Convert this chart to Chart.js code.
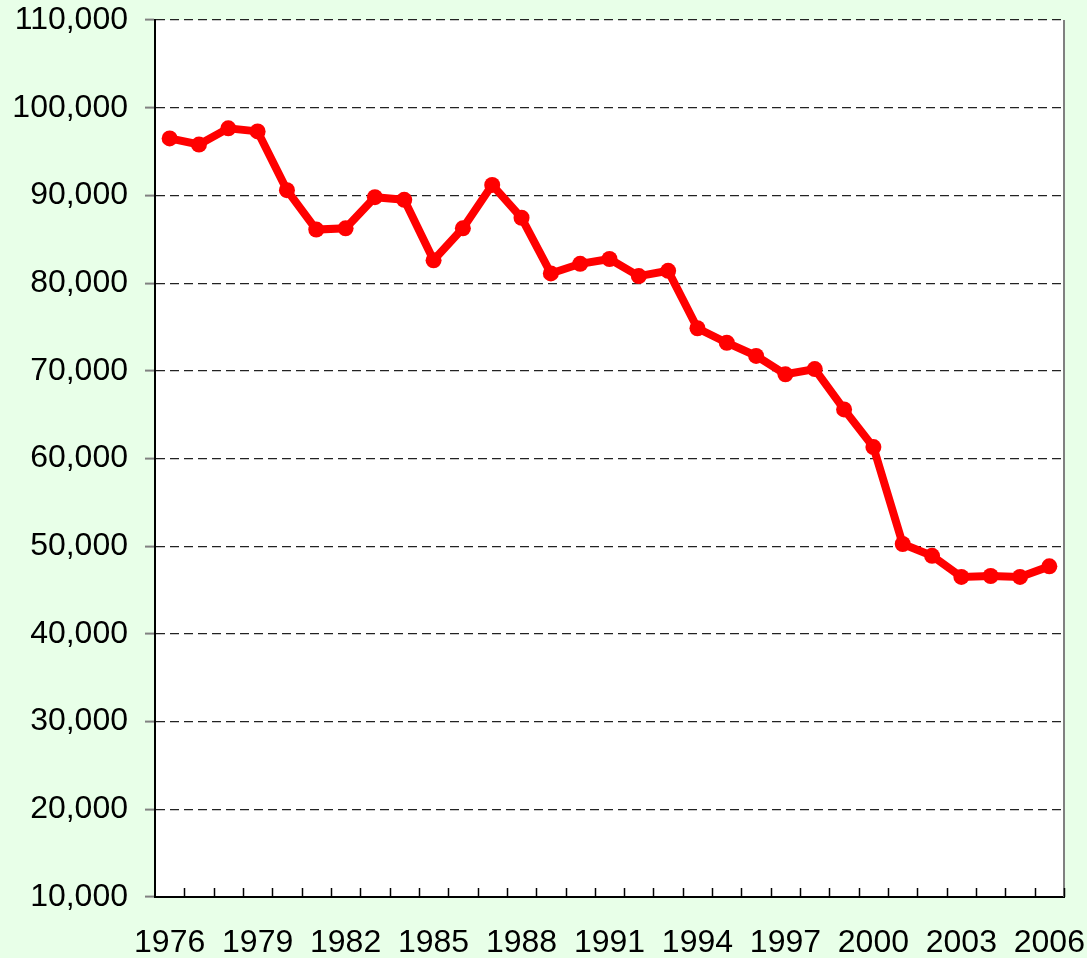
<!DOCTYPE html>
<html>
<head>
<meta charset="utf-8">
<script src="https://cdn.jsdelivr.net/npm/chart.js@4/dist/chart.umd.min.js"></script>
<style>
  html, body { margin: 0; padding: 0; background: #e8ffe8; }
  #wrap { width: 1087px; height: 958px; position: relative; }
</style>
</head>
<body>
<div id="wrap"><canvas id="chart"></canvas></div>
<script>
// datos
const years = [1976, 1977, 1978, 1979, 1980, 1981, 1982, 1983, 1984, 1985,
  1986, 1987, 1988, 1989, 1990, 1991, 1992, 1993, 1994, 1995,
  1996, 1997, 1998, 1999, 2000, 2001, 2002, 2003, 2004, 2005, 2006];
const values = [96500, 95800, 97650, 97300, 90600, 86100, 86250, 89800, 89500, 82600,
  86250, 91200, 87450, 81100, 82200, 82750, 80800, 81400, 74850, 73200,
  71700, 69600, 70200, 65600, 61300, 50250, 48900, 46500, 46600, 46500, 47700];
const shownYears = [1976, 1979, 1982, 1985, 1988, 1991, 1994, 1997, 2000, 2003, 2006];
const yMin = 10000;
const yMax = 110000;
const yStep = 10000;

const FONT = { family: "'Liberation Sans', Arial, sans-serif", size: 32 };

// fondo blanco del area de trazado, borde derecho y marcas internas del eje x
const plotDecor = {
  id: "plotDecor",
  beforeDraw(chart) {
    const { ctx, chartArea: a } = chart;
    ctx.save();
    ctx.fillStyle = "#ffffff";
    ctx.fillRect(a.left, a.top, a.right - a.left, a.bottom - a.top);
    ctx.restore();
  },
  afterDraw(chart) {
    const { ctx, chartArea: a } = chart;
    const xs = chart.scales.x;
    const n = years.length;
    ctx.save();
    ctx.strokeStyle = "#808080";
    ctx.lineWidth = 2;
    ctx.beginPath();
    ctx.moveTo(a.right, a.top);
    ctx.lineTo(a.right, a.bottom);
    ctx.stroke();
    ctx.strokeStyle = "#000000";
    ctx.lineWidth = 1.5;
    for (let i = 1; i <= n; i++) {
      const x = Math.round(xs.left + (i * (xs.right - xs.left)) / n) + 0.5;
      ctx.beginPath();
      ctx.moveTo(x, a.bottom);
      ctx.lineTo(x, a.bottom - 9);
      ctx.stroke();
    }
    ctx.restore();
  },
};

new Chart(document.getElementById("chart"), {
  type: "line",
  data: {
    labels: years,
    datasets: [
      {
        data: values,
        borderColor: "#ff0000",
        backgroundColor: "#ff0000",
        borderWidth: 8,
        pointRadius: 8,
        pointBorderWidth: 0,
        pointBackgroundColor: "#ff0000",
        tension: 0,
        clip: false,
      },
    ],
  },
  options: {
    responsive: true,
    maintainAspectRatio: false,
    animation: false,
    layout: { padding: { top: 20, right: 23, bottom: 0, left: 0 } },
    plugins: { legend: { display: false }, tooltip: { enabled: false } },
    scales: {
      x: {
        type: "category",
        offset: true,
        grid: { display: false, drawTicks: false },
        border: { display: true, color: "#000000", width: 2 },
        ticks: {
          autoSkip: false,
          maxRotation: 0,
          padding: 27,
          color: "#000000",
          font: FONT,
          callback: function (value, index) {
            const y = years[index];
            return shownYears.includes(y) ? String(y) : "";
          },
        },
        afterFit: (s) => {
          s.height = 61;
          s.paddingLeft = 0;
          s.paddingRight = 0;
        },
      },
      y: {
        min: yMin,
        max: yMax,
        grid: {
          color: "#222222",
          lineWidth: 1.2,
          tickColor: "#808080",
          tickLength: 10,
          tickWidth: 2,
          tickBorderDash: [],
        },
        border: { display: true, color: "#000000", width: 2, dash: [9, 5] },
        ticks: {
          stepSize: yStep,
          padding: 17,
          color: "#000000",
          font: FONT,
          callback: (v) => v.toLocaleString("en-US"),
        },
        afterFit: (s) => {
          s.width = 155;
          s.paddingTop = 0;
          s.paddingBottom = 0;
        },
      },
    },
  },
  plugins: [plotDecor],
});
</script>
</body>
</html>
